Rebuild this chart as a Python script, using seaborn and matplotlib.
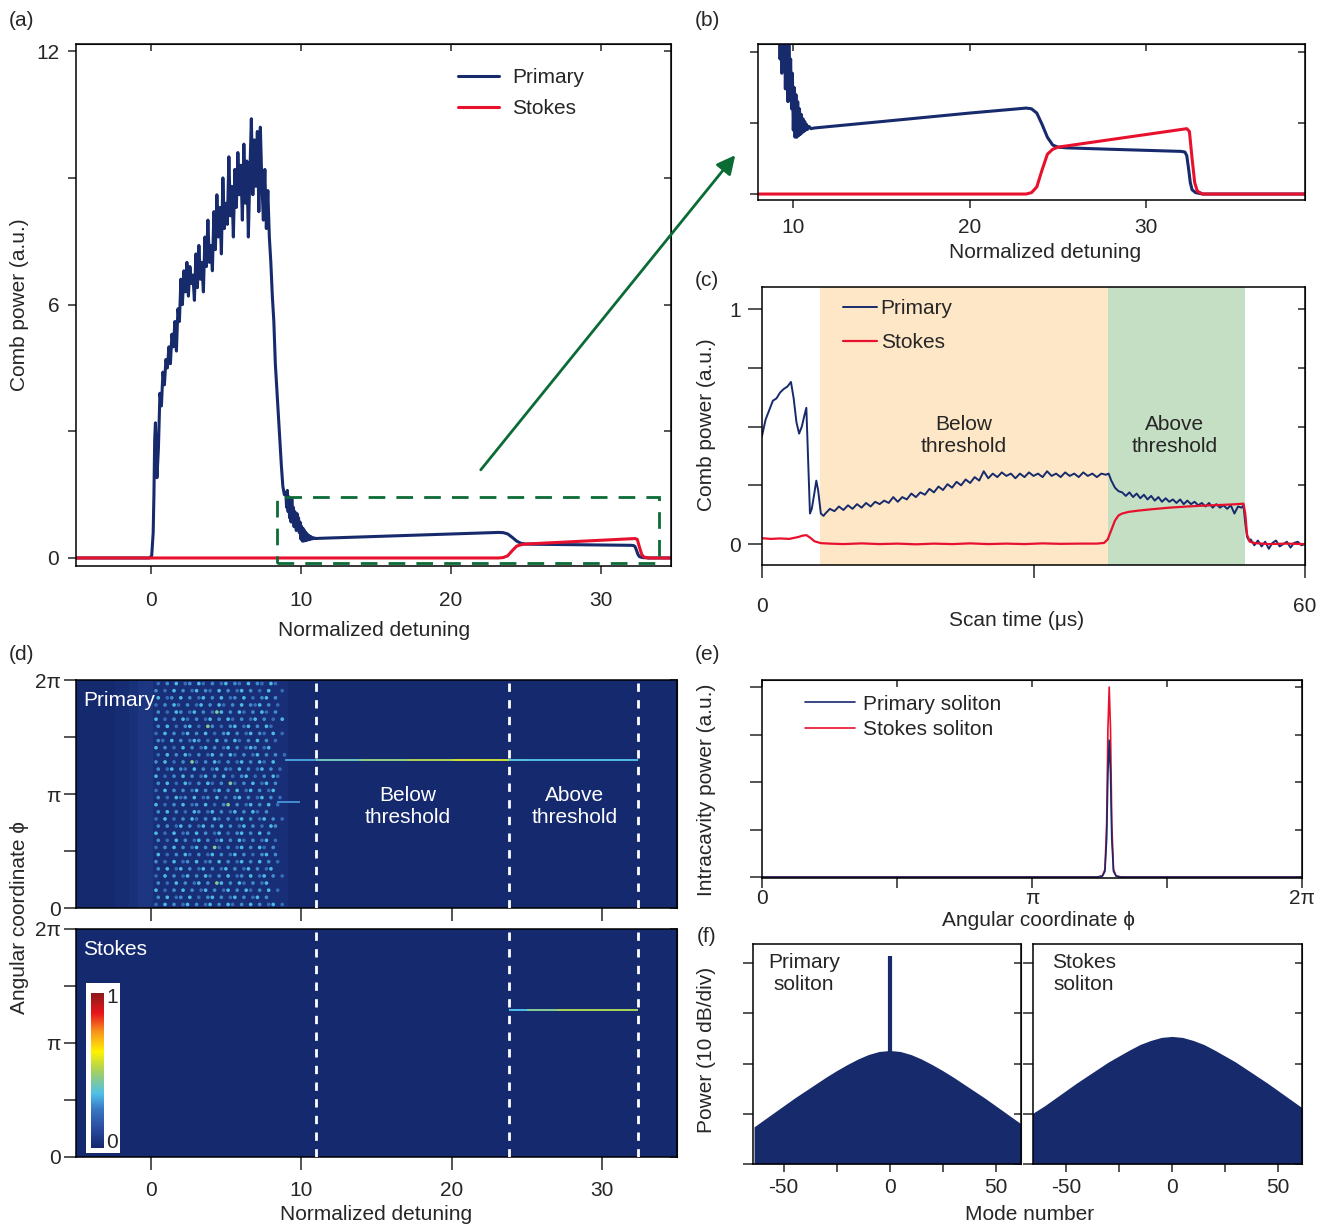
import numpy as np
import matplotlib
matplotlib.use("Agg")
import matplotlib.pyplot as plt
import seaborn as sns
from matplotlib.colors import LinearSegmentedColormap
from matplotlib.patches import Rectangle, FancyArrowPatch
from matplotlib.cm import ScalarMappable
from matplotlib.colors import Normalize

sns.set_style("ticks")
plt.rcParams["font.family"] = ["Liberation Sans", "DejaVu Sans"]
plt.rcParams["font.size"] = 15

NAVY = "#172a6c"
RED = "#e8112d"
GREEN = "#0b6b35"
FS = 15

# ---------------- (a)/(b) comb power vs detuning ----------------
detuning_p = [-5, -0.1, 0.05, 0.15, 0.2, 0.25, 0.3, 0.35, 0.4, 0.5,
              0.6, 0.7, 0.8, 0.9, 1.0, 1.1, 1.2, 1.3, 1.4, 1.5,
              1.6, 1.7, 1.8, 1.9, 2.0, 2.1, 2.2, 2.3, 2.4, 2.5,
              2.6, 2.7, 2.8, 2.9, 3.0, 3.1, 3.2, 3.3, 3.4, 3.5,
              3.6, 3.7, 3.8, 3.9, 4.0, 4.1, 4.2, 4.3, 4.4, 4.5,
              4.6, 4.7, 4.8, 4.9, 5.0, 5.1, 5.2, 5.3, 5.4, 5.5,
              5.6, 5.7, 5.8, 5.9, 6.0, 6.1, 6.2, 6.3, 6.4, 6.5,
              6.6, 6.7, 6.8, 6.9, 7.0, 7.1, 7.2, 7.3, 7.4, 7.5,
              7.6, 7.7, 7.8, 7.9, 8.0, 8.1, 8.2, 8.3, 8.4, 8.5,
              8.6, 8.7, 8.8, 8.9, 9.0, 9.05, 9.1, 9.15, 9.2, 9.25,
              9.3, 9.35, 9.4, 9.45, 9.5, 9.55, 9.6, 9.65, 9.7, 9.75,
              9.8, 9.85, 9.9, 9.95, 10.0, 10.05, 10.1, 10.15, 10.2, 10.25,
              10.3, 10.35, 10.4, 10.45, 10.5, 10.55, 10.6, 10.65, 10.7, 10.75,
              10.8, 10.9, 11.0, 11.2, 15.0, 20.0, 23.2, 23.5, 23.8, 24.1,
              24.4, 24.7, 25.0, 25.5, 28.0, 32.0, 32.2, 32.3, 32.4, 32.5,
              32.6, 32.8, 33.2, 39.0]
primary_a = [0, 0, 0.05, 0.6, 1.5, 2.8, 3.2, 2.5, 1.9, 2.6,
             3.9, 3.6, 4.4, 4.1, 4.7, 4.5, 5.0, 4.6, 5.3, 5.0,
             5.6, 4.9, 5.9, 5.6, 6.6, 6.0, 6.8, 6.3, 7.0, 6.2,
             6.9, 6.5, 6.7, 6.1, 7.2, 6.4, 7.4, 6.6, 7.0, 6.3,
             7.6, 6.9, 8.0, 7.0, 7.4, 6.8, 8.2, 7.3, 8.6, 7.6,
             8.3, 7.2, 9.0, 7.8, 8.4, 7.9, 9.5, 8.1, 8.8, 7.6,
             9.2, 8.3, 9.6, 8.6, 9.3, 8.0, 9.8, 8.4, 9.4, 7.6,
             9.1, 10.4, 8.6, 9.9, 8.8, 10.1, 8.2, 10.2, 8.9, 8.0,
             9.2, 7.8, 8.7, 7.6, 7.0, 6.2, 5.6, 4.6, 4.0, 3.4,
             2.8, 2.2, 1.7, 1.5, 1.55, 1.2, 1.6, 1.1, 1.45, 0.95,
             1.35, 0.85, 1.4, 1.0, 1.2, 0.74, 1.1, 0.9, 0.65, 1.05,
             0.78, 0.95, 0.6, 0.85, 0.45, 0.75, 0.40, 0.70, 0.40, 0.65,
             0.41, 0.60, 0.42, 0.56, 0.43, 0.53, 0.44, 0.51, 0.45, 0.49,
             0.455, 0.475, 0.46, 0.465, 0.51, 0.57, 0.605, 0.6, 0.57, 0.49,
             0.40, 0.345, 0.33, 0.325, 0.315, 0.30, 0.295, 0.27, 0.18, 0.08,
             0.03, 0.01, 0.0, 0.0]
detuning_s = [-5, 23.2, 23.5, 23.8, 24.1, 24.4, 24.7, 25.0, 32.3, 32.45,
              32.6, 32.75, 32.9, 33.2, 39.0]
stokes_a = [0, 0, 0.01, 0.05, 0.17, 0.28, 0.315, 0.33, 0.46, 0.44,
            0.25, 0.08, 0.02, 0.0, 0.0]

# ---------------- (c) measured comb power vs scan time ----------------
time_p = [0, 0.4, 0.8, 1.2, 1.6, 2.0, 2.4, 2.8, 3.2, 3.5,
          3.8, 4.1, 4.4, 4.7, 4.9, 5.1, 5.3, 5.5, 5.8, 6.0,
          6.2, 6.5, 6.8, 7.0, 7.5, 8.0, 8.5, 9.0, 9.5, 10.0,
          10.5, 11.0, 11.5, 12.0, 12.5, 13.0, 13.5, 14.0, 14.5, 15.0,
          15.5, 16.0, 16.5, 17.0, 17.5, 18.0, 18.5, 19.0, 19.5, 20.0,
          20.5, 21.0, 21.5, 22.0, 22.5, 23.0, 23.5, 24.0, 24.5, 25.0,
          25.5, 26.0, 26.5, 27.0, 27.5, 28.0, 28.5, 29.0, 29.5, 30.0,
          30.5, 31.0, 31.5, 32.0, 32.5, 33.0, 33.5, 34.0, 34.5, 35.0,
          35.5, 36.0, 36.5, 37.0, 37.5, 38.0, 38.3, 38.6, 39.0, 39.4,
          39.8, 40.2, 40.6, 41.0, 41.4, 41.8, 42.2, 42.6, 43.0, 43.4,
          43.8, 44.2, 44.6, 45.0, 45.4, 45.8, 46.2, 46.6, 47.0, 47.4,
          47.8, 48.2, 48.6, 49.0, 49.4, 49.8, 50.2, 50.6, 51.0, 51.4,
          51.8, 52.2, 52.6, 53.0, 53.2, 53.4, 53.6, 53.8, 54.0, 54.4,
          54.8, 55.2, 55.6, 56.0, 56.4, 56.8, 57.2, 57.6, 58.0, 58.4,
          58.8, 59.2, 59.6, 60.0]
primary_c = [0.46, 0.53, 0.57, 0.61, 0.62, 0.645, 0.66, 0.67, 0.69, 0.62,
             0.52, 0.47, 0.5, 0.55, 0.58, 0.35, 0.13, 0.15, 0.22, 0.27,
             0.23, 0.13, 0.12, 0.13, 0.15, 0.14, 0.16, 0.145, 0.165, 0.15,
             0.17, 0.155, 0.175, 0.16, 0.18, 0.17, 0.185, 0.175, 0.2, 0.18,
             0.2, 0.19, 0.215, 0.2, 0.22, 0.21, 0.235, 0.22, 0.245, 0.23,
             0.255, 0.24, 0.265, 0.25, 0.275, 0.26, 0.285, 0.27, 0.31, 0.28,
             0.3, 0.285, 0.305, 0.29, 0.3, 0.28, 0.3, 0.285, 0.305, 0.29,
             0.3, 0.285, 0.31, 0.29, 0.3, 0.285, 0.305, 0.29, 0.3, 0.285,
             0.305, 0.29, 0.3, 0.285, 0.3, 0.295, 0.3, 0.27, 0.24, 0.225,
             0.22, 0.205, 0.22, 0.2, 0.215, 0.195, 0.21, 0.19, 0.205, 0.185,
             0.2, 0.18, 0.195, 0.18, 0.19, 0.175, 0.19, 0.17, 0.185, 0.17,
             0.18, 0.165, 0.175, 0.16, 0.175, 0.155, 0.17, 0.155, 0.165, 0.15,
             0.165, 0.13, 0.16, 0.155, 0.165, 0.09, 0.03, 0.015, 0.02, -0.005,
             0.015, -0.01, 0.01, -0.02, 0.005, 0.015, -0.01, 0.0, 0.01, -0.015,
             0.005, 0.01, -0.005, 0.0]
time_s = [0, 1, 2, 3, 3.5, 4, 4.5, 4.9, 5.3, 5.8,
          6.5, 7.5, 9, 11, 13, 15, 17, 19, 21, 23,
          25, 27, 29, 31, 33, 35, 37, 37.8, 38.2, 38.6,
          39.0, 39.4, 39.8, 40.5, 41.5, 43, 45, 47, 49, 51,
          52.5, 53.2, 53.4, 53.6, 53.9, 54.5, 56, 58, 60]
stokes_c = [0.025, 0.022, 0.024, 0.022, 0.026, 0.03, 0.036, 0.038, 0.028, 0.012,
            0.004, 0.002, 0.0, 0.003, 0.0, 0.002, -0.001, 0.002, 0.0, 0.003,
            0.0, 0.002, 0.0, 0.003, 0.001, 0.002, 0.002, 0.005, 0.02, 0.06,
            0.1, 0.122, 0.13, 0.137, 0.142, 0.148, 0.155, 0.16, 0.164, 0.167,
            0.17, 0.172, 0.13, 0.04, 0.01, 0.004, 0.0, 0.002, 0.0]
below_span = [6.4, 38.2]
above_span = [38.2, 53.4]

# ---------------- (d) intracavity maps ----------------
stripe_edges = [-5, -2.4, -1.5, -0.9, 0.1, 9.1, 35]
stripe_level = [0.0, 0.015, 0.03, 0.05, 0.02, 0.0]
chaos_rows = [
    "010203012031020130210302103100", "201030201302103020130201030010",
    "030120302013020301203010230200", "102031020130203102030213020100",
    "020103201302014302031020310200", "301020310201302031020130201030",
    "020301023010420102301302031000", "103020130203010230201302103010",
    "021030201320103020310203020100", "302010302013020130201320130000",
    "010302031020130203102013020201", "203010204102031020130203103000",
    "020130210302013021030201302010", "301020302013020301023010203100",
    "020301031020310204102030130200", "103020201302013020301302013000",
    "020103120301203010230201302010", "301020301203010240201302030100",
    "020302010320130201302031020000", "103010203102031020130201302010",
    "020201302013020302013020103200", "301030120302013010230203020000",
    "020103020130201302031020130100", "102030201302041020130203102000",
    "030102031020130201302010230200", "201030120301203020130203020100",
    "020301302013020130201302013000", "103020130203102030120301302010",
    "020103020130204302031020130000", "301020302013020130203102030100",
    "020301203010230201302013020000", "103020130201302031020302013010",
]
speckle_level = {"1": 0.22, "2": 0.28, "3": 0.34, "4": 0.44}
primary_sol_edges = [8.9, 11, 14, 17, 20, 22, 23.8, 25, 28, 32.4]
primary_sol_level = [0.3, 0.4, 0.46, 0.5, 0.55, 0.54, 0.36, 0.34, 0.34]
primary_sol_phi = 4.08
side_sol_edges = [8.4, 9.9]
side_sol_level = [0.28]
side_sol_phi = 2.92
stokes_sol_edges = [23.8, 25, 27, 30, 32.4]
stokes_sol_level = [0.34, 0.44, 0.5, 0.5]
stokes_sol_phi = 4.05
threshold_lines = [11.0, 23.8, 32.4]

# ---------------- (e) intracavity profile ----------------
phi_e = [0, 3.90, 3.96, 3.99, 4.01, 4.025, 4.04, 4.055, 4.07, 4.09, 4.12, 4.18, 2 * np.pi]
primary_e = [0, 0, 0.005, 0.03, 0.2, 0.55, 0.72, 0.55, 0.2, 0.03, 0.005, 0, 0]
stokes_e = [0, 0, 0.006, 0.04, 0.28, 0.78, 1.0, 0.78, 0.28, 0.04, 0.006, 0, 0]

# ---------------- (f) optical spectra (dB) ----------------
mode_p = [-64, -60, -55, -50, -45, -40, -35, -30, -25, -20, -15, -10, -5, 0,
          5, 10, 15, 20, 25, 30, 35, 40, 45, 50, 55, 60, 62]
spec_p = [-32.6, -31.4, -29.9, -28.4, -26.9, -25.5, -24.1, -22.7, -21.4, -20.2, -19.1, -18.2, -17.6, -17.4,
          -17.6, -18.2, -19.1, -20.2, -21.4, -22.7, -24.1, -25.5, -26.9, -28.4, -29.9, -31.4, -32.0]
pump_mode = [0]
pump_power = [1.4]
mode_s = [-66, -60, -55, -50, -45, -40, -35, -30, -25, -20, -15, -10, -5, 0,
          5, 10, 15, 20, 25, 30, 35, 40, 45, 50, 55, 60, 62]
spec_s = [-30.0, -28.4, -26.9, -25.4, -23.9, -22.5, -21.1, -19.7, -18.5, -17.3, -16.2, -15.4, -14.8, -14.6,
          -14.8, -15.4, -16.2, -17.3, -18.5, -19.7, -21.1, -22.5, -23.9, -25.4, -26.9, -28.4, -29.0]

cmap = LinearSegmentedColormap.from_list("heat", [
    (0.0, "#14296e"), (0.12, "#2a4a9e"), (0.25, "#3a78c4"), (0.35, "#4fc0e8"),
    (0.5, "#a8d05a"), (0.62, "#fff200"), (0.75, "#f7941d"), (0.87, "#e8141c"),
    (1.0, "#8b1a1a")])

W, H = 1326, 1226
fig = plt.figure(figsize=(W / 100, H / 100), dpi=100)


def box(x0, y0, x1, y1):
    return [x0 / W, 1 - y1 / H, (x1 - x0) / W, (y1 - y0) / H]


def ftext(x, y, s, **kw):
    fig.text(x / W, 1 - y / H, s, ha=kw.pop("ha", "center"), va=kw.pop("va", "center"), **kw)


def style(ax, xt, xl, yt, yl, xpad=10, ypad=6, xlen=6, ylen=6, top=True, right=True):
    ax.set_xticks(xt)
    ax.set_xticklabels(xl)
    ax.set_yticks(yt)
    ax.set_yticklabels(yl)
    ax.tick_params(axis="x", direction="out", length=xlen, width=1.1, pad=xpad, labelsize=FS)
    ax.tick_params(axis="y", direction="out", length=ylen, width=1.1, pad=ypad, labelsize=FS)
    for s in ax.spines.values():
        s.set_visible(True)
        s.set_linewidth(1.1)
        s.set_color("black")
    if top:
        sx = ax.secondary_xaxis("top")
        sx.set_xticks(xt)
        sx.tick_params(direction="in", length=5, width=1.1, labeltop=False)
    if right:
        sy = ax.secondary_yaxis("right")
        sy.set_yticks(yt)
        sy.tick_params(direction="in", length=5, width=1.1, labelright=False)


# ---- (a)
ax_a = fig.add_axes(box(76, 44, 671, 566))
sns.lineplot(x=detuning_p, y=primary_a, ax=ax_a, color=NAVY, lw=2.2, estimator=None, sort=False, label="Primary")
sns.lineplot(x=detuning_s, y=stokes_a, ax=ax_a, color=RED, lw=2.2, estimator=None, sort=False, label="Stokes")
ax_a.set_xlim(-5, 34.7)
ax_a.set_ylim(-0.19, 12.17)
style(ax_a, [0, 10, 20, 30], ["0", "10", "20", "30"], [0, 3, 6, 9, 12], ["0", "", "6", "", "12"], xpad=12)
ax_a.legend(loc="upper left", bbox_to_anchor=(0.61, 0.99), frameon=False, fontsize=FS,
            handlelength=2.0, labelspacing=0.6, handletextpad=0.6)
ax_a.add_patch(Rectangle((8.4, -0.12), 25.5, 1.56, fill=False, ec=GREEN, lw=2, ls=(0, (6, 4)), zorder=5))
ftext(374, 630, "Normalized detuning", fontsize=FS)
ftext(20, 305, "Comb power (a.u.)", rotation=90, fontsize=FS)

# ---- (b)
ax_b = fig.add_axes(box(758, 44, 1305, 200))
sns.lineplot(x=detuning_p, y=primary_a, ax=ax_b, color=NAVY, lw=2.2, estimator=None, sort=False)
sns.lineplot(x=detuning_s, y=stokes_a, ax=ax_b, color=RED, lw=2.2, estimator=None, sort=False)
ax_b.set_xlim(8, 39)
ax_b.set_ylim(-0.042, 1.056)
style(ax_b, [10, 20, 30], ["10", "20", "30"], [0, 0.5, 1.0], ["", "", ""], xpad=7)
ftext(1045, 253, "Normalized detuning", fontsize=FS)

# arrow from (a) to (b)
fig.add_artist(FancyArrowPatch((479 / W, 1 - 472 / H), (737 / W, 1 - 153 / H), transform=fig.transFigure,
                               arrowstyle="-|>", mutation_scale=28, lw=2, color=GREEN))

# ---- (c)
ax_c = fig.add_axes(box(762, 287, 1305, 565))
ax_c.axvspan(below_span[0], below_span[1], color="#fde7c6", lw=0, zorder=0)
ax_c.axvspan(above_span[0], above_span[1], color="#c4dfc4", lw=0, zorder=0)
sns.lineplot(x=time_p, y=primary_c, ax=ax_c, color=NAVY, lw=1.4, estimator=None, sort=False, label="Primary")
sns.lineplot(x=time_s, y=stokes_c, ax=ax_c, color=RED, lw=1.6, estimator=None, sort=False, label="Stokes")
ax_c.set_xlim(0, 60)
ax_c.set_ylim(-0.089, 1.094)
style(ax_c, [0, 30, 60], ["0", "", "60"], [0, 0.25, 0.5, 0.75, 1.0], ["0", "", "", "", "1"],
      xpad=14, ypad=5, xlen=9, ylen=10, top=False)
ax_c.legend(loc="upper left", bbox_to_anchor=(0.115, 1.025), frameon=False, fontsize=FS,
            handlelength=1.6, labelspacing=0.75, handletextpad=0.2)
ax_c.text(22.3, 0.46, "Below\nthreshold", ha="center", va="center", fontsize=FS)
ax_c.text(45.6, 0.46, "Above\nthreshold", ha="center", va="center", fontsize=FS)
ftext(1017, 621, "Scan time (\u03bcs)", fontsize=FS)
ftext(706, 425, "Comb power (a.u.)", rotation=90, fontsize=FS)

# ---- (d)
col_w = 9.0 / len(chaos_rows[0])
row_h = 2 * np.pi / len(chaos_rows)
spk_x, spk_phi, spk_lvl = [], [], []
for i, row in enumerate(chaos_rows):
    for j, c in enumerate(row):
        if c != "0":
            spk_x.append(0.1 + (j + 0.25 + 0.5 * (i % 2)) * col_w)
            spk_phi.append(2 * np.pi - (i + 0.5) * row_h)
            spk_lvl.append(speckle_level[c])
pi_ticks = [0, np.pi / 2, np.pi, 3 * np.pi / 2, 2 * np.pi]
pi_labels = ["0", "", "\u03c0", "", "2\u03c0"]

ax_d1 = fig.add_axes(box(76, 680, 677, 908))
ax_d2 = fig.add_axes(box(76, 929, 677, 1157))
ax_d1.pcolormesh(stripe_edges, [0, 2 * np.pi], [stripe_level], cmap=cmap, vmin=0, vmax=1)
ax_d2.pcolormesh(stripe_edges, [0, 2 * np.pi], [[0] * len(stripe_level)], cmap=cmap, vmin=0, vmax=1)
for ax in (ax_d1, ax_d2):
    for xv in threshold_lines:
        ax.axvline(xv, color="white", lw=2, ls=(0, (3, 3)), zorder=4)
    ax.set_xlim(-5, 35)
    ax.set_ylim(0, 2 * np.pi)

sns.scatterplot(x=spk_x, y=spk_phi, hue=spk_lvl, palette=cmap, hue_norm=(0, 1), s=7, linewidth=0,
                legend=False, ax=ax_d1, zorder=2)
ax_d1.pcolormesh(primary_sol_edges, [primary_sol_phi - 0.03, primary_sol_phi + 0.03], [primary_sol_level],
                 cmap=cmap, vmin=0, vmax=1)
ax_d1.pcolormesh(side_sol_edges, [side_sol_phi - 0.025, side_sol_phi + 0.025], [side_sol_level],
                 cmap=cmap, vmin=0, vmax=1)
ax_d2.pcolormesh(stokes_sol_edges, [stokes_sol_phi - 0.03, stokes_sol_phi + 0.03], [stokes_sol_level],
                 cmap=cmap, vmin=0, vmax=1)

style(ax_d1, [0, 10, 20, 30], ["", "", "", ""], pi_ticks, pi_labels, xlen=9, ylen=9, ypad=2, top=False)
style(ax_d2, [0, 10, 20, 30], ["0", "10", "20", "30"], pi_ticks, pi_labels, xpad=8, xlen=9, ylen=9, ypad=2,
      top=False)
ax_d1.text(0.012, 0.91, "Primary", transform=ax_d1.transAxes, color="white", fontsize=FS, va="center", zorder=6)
ax_d2.text(0.012, 0.91, "Stokes", transform=ax_d2.transAxes, color="white", fontsize=FS, va="center", zorder=6)
ax_d1.text(17.1, 2.8, "Below\nthreshold", color="white", ha="center", va="center", fontsize=FS, zorder=5)
ax_d1.text(28.2, 2.8, "Above\nthreshold", color="white", ha="center", va="center", fontsize=FS, zorder=5)

ax_d2.add_patch(Rectangle((0.016, 0.018), 0.058, 0.745, transform=ax_d2.transAxes, fc="white", ec="none", zorder=5))
cax = ax_d2.inset_axes([0.025, 0.04, 0.022, 0.68])
cax.set_zorder(6)
cb = fig.colorbar(ScalarMappable(norm=Normalize(0, 1), cmap=cmap), cax=cax, ticks=[])
cb.outline.set_visible(False)
ax_d2.text(0.05, 0.70, "1", transform=ax_d2.transAxes, fontsize=FS, va="center", zorder=7)
ax_d2.text(0.05, 0.065, "0", transform=ax_d2.transAxes, fontsize=FS, va="center", zorder=7)
ftext(376, 1214, "Normalized detuning", fontsize=FS)
ftext(20, 918, "Angular coordinate \u03d5", rotation=90, fontsize=FS)

# ---- (e)
ax_e = fig.add_axes(box(762, 680, 1302, 878))
sns.lineplot(x=phi_e, y=stokes_e, ax=ax_e, color=RED, lw=1.2, estimator=None, sort=False, label="Stokes soliton")
sns.lineplot(x=phi_e, y=primary_e, ax=ax_e, color=NAVY, lw=1.2, estimator=None, sort=False, label="Primary soliton")
ax_e.set_xlim(0, 2 * np.pi)
ax_e.set_ylim(-0.005, 1.037)
style(ax_e, pi_ticks, pi_labels, [0, 0.25, 0.5, 0.75, 1.0], [""] * 5, xpad=1, xlen=7, ylen=9)
handles, _ = ax_e.get_legend_handles_labels()
ax_e.legend([handles[1], handles[0]], ["Primary soliton", "Stokes soliton"], loc="upper left",
            bbox_to_anchor=(0.045, 1.02), frameon=False, fontsize=FS, handlelength=2.4,
            labelspacing=0.3, handletextpad=0.4)
ftext(1038, 921, "Angular coordinate \u03d5", fontsize=FS)
ftext(706, 790, "Intracavity power (a.u.)", rotation=90, fontsize=FS)

# ---- (f)
db_ticks = [-40, -30, -20, -10, 0]
ax_f1 = fig.add_axes(box(753, 944, 1021, 1164))
ax_f2 = fig.add_axes(box(1033, 944, 1302, 1164))
ax_f1.fill_between(mode_p, spec_p, -40, color=NAVY, lw=0)
ax_f1.vlines(pump_mode, -40, pump_power, color=NAVY, lw=3)
ax_f2.fill_between(mode_s, spec_s, -40, color=NAVY, lw=0)
for ax in (ax_f1, ax_f2):
    ax.set_xlim(-64.5, 62)
    ax.set_ylim(-40, 3.8)
    style(ax, [-50, -25, 0, 25, 50], ["-50", "", "0", "", "50"], db_ticks, [""] * 5, xpad=4, xlen=6, ylen=7,
          top=False)
ax_f2.set_xlim(-65.5, 61.3)
ax_f1.text(-40.5, -2.0, "Primary\nsoliton", ha="center", va="center", fontsize=FS)
ax_f2.text(-41.5, -2.0, "Stokes\nsoliton", ha="center", va="center", fontsize=FS)
ftext(1030, 1214, "Mode number", fontsize=FS)
ftext(706, 1050, "Power (10 dB/div)", rotation=90, fontsize=FS)

# panel labels
for lab, x, y in [("(a)", 22, 20), ("(b)", 707, 20), ("(c)", 707, 280), ("(d)", 22, 655),
                  ("(e)", 707, 655), ("(f)", 707, 937)]:
    ftext(x, y, lab, fontsize=FS)

fig.savefig("out.png", dpi=100)
